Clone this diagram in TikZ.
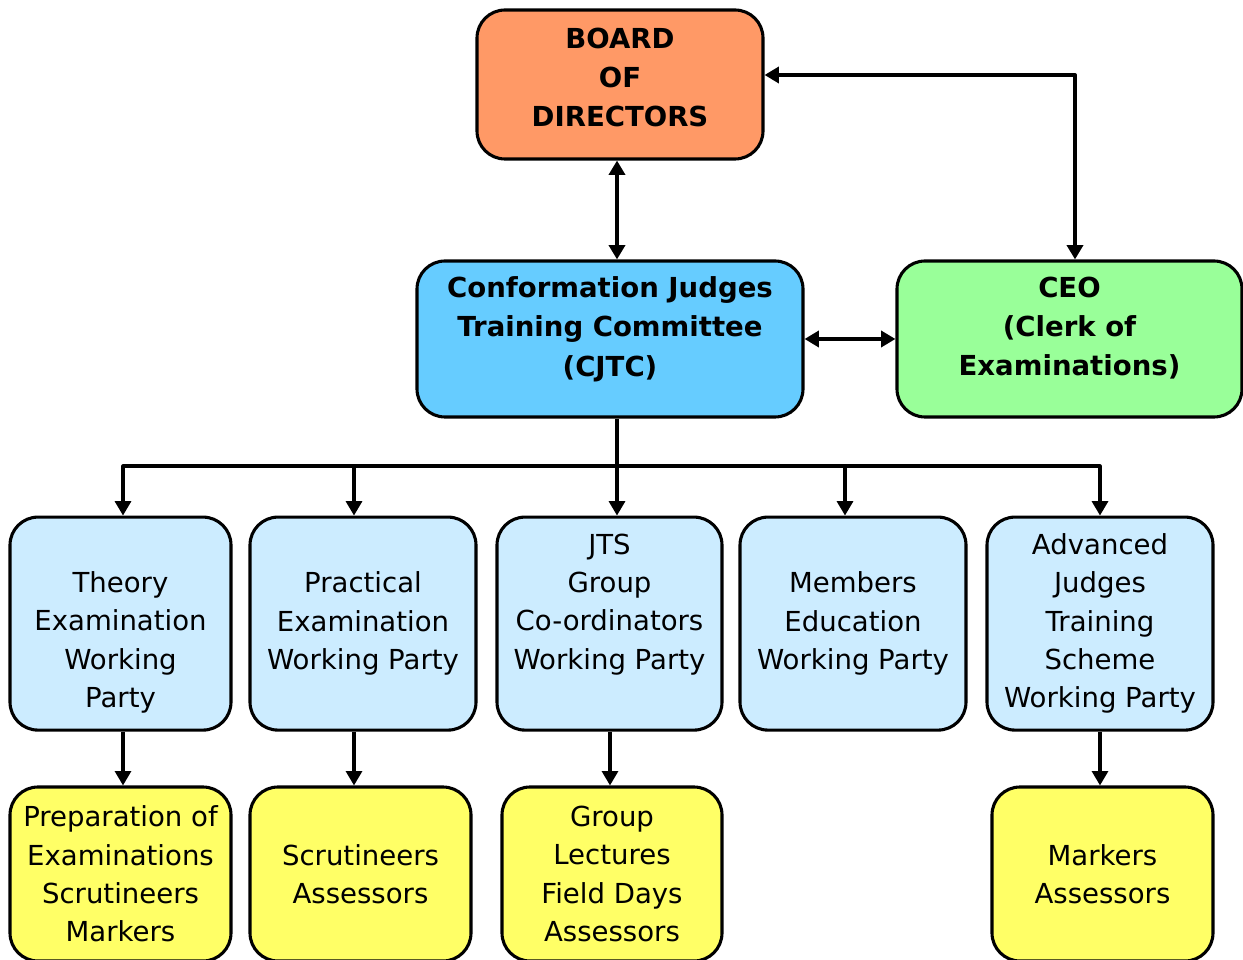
\documentclass[tikz,border=0pt]{standalone}
\usepackage{fontspec}
\setmainfont{DejaVu Sans}
\usetikzlibrary{arrows.meta}
\definecolor{boardorange}{HTML}{FF9966}
\definecolor{cjtcblue}{HTML}{66CCFF}
\definecolor{ceogreen}{HTML}{99FF99}
\definecolor{partyblue}{HTML}{CCECFF}
\definecolor{taskyellow}{HTML}{FFFF66}
\tikzset{ box/.style = { rectangle % plain box
        , rounded corners = 7mm
        , draw
        , line width = 2.2pt
        , inner sep = 0pt
        , align = center
        , font = \fontsize{19.6}{27.3}\selectfont
        }
        , topbox/.style = { box % committee level
        , font = \fontsize{19.6}{27.9}\selectfont\bfseries
        }
        }

\begin{document}
\begin{tikzpicture}[line join=round,
        party_style/.style={box,fill=partyblue,minimum height=5.325cm},
        task_style/.style={box,fill=taskyellow,minimum height=4.35cm},
        line_style/.style={draw=black, line width=2.2pt},
        edge_style/.style={line_style, -{Triangle[length=3.6mm,width=4mm]}},
        both_edge_style/.style={line_style, line width=2.9pt, {Triangle[length=3.6mm,width=4mm]}-{Triangle[length=3.6mm,width=4mm]}}]
        \useasboundingbox (0,0) rectangle (31.075,-24);

        \node [topbox,fill=boardorange,minimum width=7.15cm,minimum height=3.725cm](board) at (15.5,-2.1125) {BOARD\\OF\\DIRECTORS\\[-17.5pt]\mbox{}};
        \node [topbox,fill=cjtcblue,minimum width=9.65cm,minimum height=3.9cm](cjtc) at (15.25,-8.475) {Conformation Judges\\Training Committee\\(CJTC)\\[-10pt]\mbox{}};
        \node [topbox,fill=ceogreen,minimum width=8.625cm,minimum height=3.9cm](ceo) at (26.7375,-8.475) {CEO\\(Clerk of\\Examinations)\\[-10pt]\mbox{}};

        \node [party_style,minimum width=5.525cm](theory) at (3.0125,-15.59) {\vphantom{T}\\Theory\\Examination\\Working\\Party};
        \node [party_style,minimum width=5.65cm](practical) at (9.075,-15.59) {Practical\\Examination\\Working Party};
        \node [party_style,minimum width=5.625cm](jts) at (15.2375,-15.59) {JTS\\Group\\Co-ordinators\\Working Party\\\vphantom{y}};
        \node [party_style,minimum width=5.65cm](members) at (21.325,-15.59) {Members\\Education\\Working Party};
        \node [party_style,minimum width=5.65cm](advanced) at (27.5,-15.59) {Advanced\\Judges\\Training\\Scheme\\Working Party};

        \node [task_style,minimum width=5.525cm](prep) at (3.0125,-21.85) {Preparation of\\Examinations\\Scrutineers\\Markers};
        \node [task_style,minimum width=5.525cm](scrut) at (9.0125,-21.85) {Scrutineers\\Assessors};
        \node [task_style,minimum width=5.5cm](group) at (15.3,-21.85) {Group\\Lectures\\Field Days\\Assessors};
        \node [task_style,minimum width=5.525cm](markers) at (27.5625,-21.85) {Markers\\Assessors};

        \coordinate (trunk) at (15.425,-11.65);
        \coordinate (corner) at (26.875,-1.875);
        \draw [both_edge_style] (board.south -| trunk) -- (cjtc.north -| trunk);
        \draw [both_edge_style] (cjtc.east) -- (ceo.west);
        \draw [both_edge_style] (ceo.north -| corner) -- (corner) -- (board.east |- corner);
        \draw [line_style] (cjtc.south -| trunk) -- (trunk);
        \foreach \x/\wp in {3.075/theory, 8.85/practical, 15.425/jts, 21.125/members, 27.5/advanced}{
            \coordinate (drop) at (\x,0);
            \draw [edge_style] (trunk) -| (\wp.north -| drop);
        }
        \foreach \x/\wp/\task in {3.075/theory/prep, 8.85/practical/scrut, 15.25/jts/group, 27.5/advanced/markers}{
            \coordinate (drop) at (\x,0);
            \draw [edge_style] (\wp.south -| drop) -- (\task.north -| drop);
        }
        \end{tikzpicture}
\end{document}
